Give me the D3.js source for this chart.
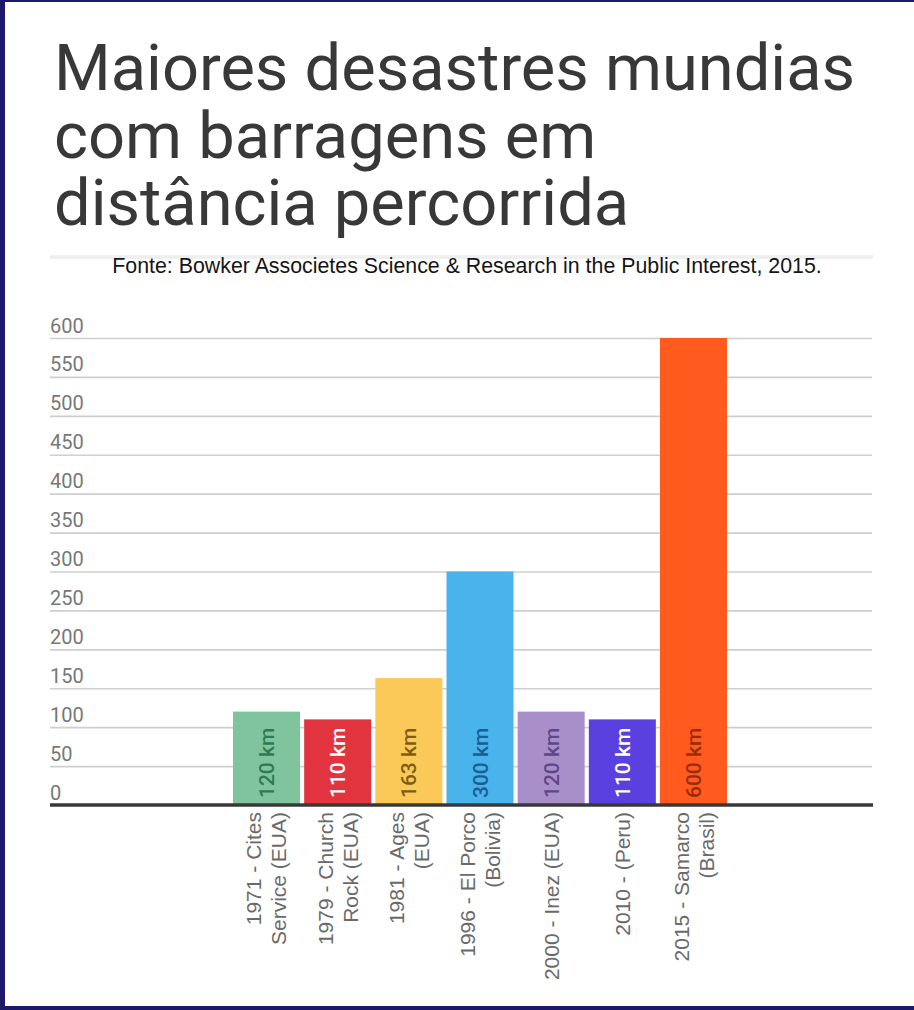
<!DOCTYPE html>
<html>
<head>
<meta charset="utf-8">
<script src="https://cdn.jsdelivr.net/npm/d3@7"></script>
<style>
  html, body { margin: 0; padding: 0; background: #fff; }
  svg { display: block; }
</style>
</head>
<body>
<svg id="chart" width="914" height="1010"></svg>
<script>
// Dam disasters: distance travelled by the tailings (km)
const categories = [
  "1971 - Cites\nService (EUA)",
  "1979 - Church\nRock (EUA)",
  "1981 - Ages\n(EUA)",
  "1996 - El Porco\n(Bolivia)",
  "2000 - Inez (EUA)",
  "2010 - (Peru)",
  "2015 - Samarco\n(Brasil)"
];
const distances = [120, 110, 163, 300, 120, 110, 600];
const barColors = ["#80c49d", "#e2343f", "#fbc957", "#49b3ec", "#a98fc9", "#5a40de", "#ff5b1e"];
const valueColors = ["#2f7a52", "#ffffff", "#7d5c16", "#1c5e92", "#5d4787", "#ffffff", "#9b2a0c"];
const yTicks = [0, 50, 100, 150, 200, 250, 300, 350, 400, 450, 500, 550, 600];
const titleLines = ["Maiores desastres mundias", "com barragens em", "distância percorrida"];
const sourceText = "Fonte: Bowker Associetes Science & Research in the Public Interest, 2015.";

const svg = d3.select("#chart");
const W = 914, H = 1010;

// frame
svg.append("rect").attr("width", W).attr("height", H).attr("fill", "#1c1a68");
svg.append("rect").attr("x", 5).attr("y", 2).attr("width", W - 5).attr("height", 1004).attr("fill", "#ffffff");

// title, one text block with three lines
svg.append("text")
  .attr("font-family", "Roboto, 'Noto Sans', sans-serif")
  .attr("font-size", 65)
  .attr("fill", "#383838")
  .selectAll("tspan").data(titleLines).join("tspan")
  .attr("x", 54)
  .attr("y", (d, i) => 90 + i * 67.5)
  .text(d => d);

// source line with thin rule above it
svg.append("rect").attr("x", 50).attr("y", 255).attr("width", 823).attr("height", 4).attr("fill", "#efefef");
const src = svg.append("text")
  .attr("x", 467).attr("y", 273)
  .attr("text-anchor", "middle")
  .attr("font-family", "'Liberation Sans', Arial, sans-serif")
  .attr("font-size", 20)
  .attr("fill", "#151515")
  .text(sourceText);
const srcLen = src.node().getComputedTextLength();
src.attr("font-size", 20 * 710 / srcLen);

// scales
const x = d3.scaleBand().domain(categories).range([233, 727]).paddingInner(0.0586).paddingOuter(0);
const y = d3.scaleLinear().domain([0, 600]).range([805, 338]);

// gridlines + tick labels
const yAxis = d3.axisLeft(y).tickValues(yTicks).tickSize(-822).tickFormat(d3.format("d")).tickPadding(0);
const gy = svg.append("g").attr("transform", "translate(50,0)").call(yAxis);
gy.select(".domain").remove();
gy.selectAll(".tick line").attr("stroke", "#cfcfcf").attr("stroke-width", 1.7)
  .attr("x1", 0).attr("x2", 822);
gy.selectAll(".tick text")
  .attr("x", 0).attr("dy", null).attr("y", -6)
  .attr("text-anchor", "start")
  .attr("font-family", "Roboto, 'Noto Sans', sans-serif")
  .attr("font-size", 20)
  .attr("fill", "#777");
gy.selectAll(".tick").filter(d => d === 0).select("line").remove();

// bars
svg.append("g").selectAll("rect").data(categories).join("rect")
  .attr("x", d => x(d))
  .attr("y", (d, i) => y(distances[i]))
  .attr("width", x.bandwidth())
  .attr("height", (d, i) => y(0) - y(distances[i]))
  .attr("fill", (d, i) => barColors[i]);

// value labels inside bars
svg.append("g").selectAll("text").data(categories).join("text")
  .attr("transform", d => `translate(${x(d) + x.bandwidth() / 2 + 7.5},798) rotate(-90)`)
  .attr("font-family", "Roboto, 'Noto Sans', sans-serif")
  .attr("font-size", 21)
  .attr("font-weight", 500)
  .attr("fill", (d, i) => valueColors[i])
  .text((d, i) => distances[i] + " km");

// baseline
svg.append("line")
  .attr("x1", 50).attr("x2", 873).attr("y1", y(0)).attr("y2", y(0))
  .attr("stroke", "#383838").attr("stroke-width", 3.5);

// category labels, rotated, one or two lines
const xl = svg.append("g").selectAll("text").data(categories).join("text")
  .attr("transform", d => `translate(${x(d) + x.bandwidth() / 2},812) rotate(-90)`)
  .attr("text-anchor", "end")
  .attr("font-family", "'Liberation Sans', Arial, sans-serif")
  .attr("font-size", 21)
  .attr("fill", "#6a6a6a");
xl.each(function(d) {
  const lines = d.split("\n");
  const t = d3.select(this);
  lines.forEach((ln, j) => {
    t.append("tspan")
      .attr("x", 0)
      .attr("y", 7.5 + (j - (lines.length - 1) / 2) * 25)
      .text(ln);
  });
});
</script>
</body>
</html>
